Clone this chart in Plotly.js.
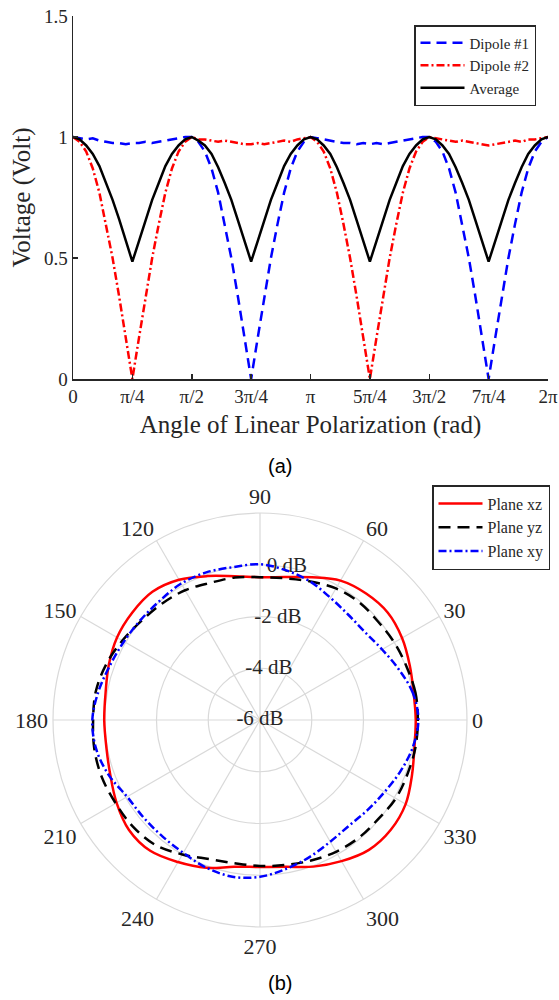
<!DOCTYPE html>
<html>
<head>
<meta charset="utf-8">
<script src="https://cdn.plot.ly/plotly-3.0.1.min.js"></script>
<style>
  html, body { margin: 0; padding: 0; background: #fff; }
  #chart { width: 559px; height: 1000px; }
</style>
</head>
<body>
<div id="chart"></div>
<script>
// ---------- (a) received voltage vs. polarization angle ----------
const angleDeg = [0,5,10,15,20,25,30,35,40,45,50,55,60,65,70,75,80,85,90,
  95,100,105,110,115,120,125,130,135,140,145,150,155,160,165,170,175,180,
  185,190,195,200,205,210,215,220,225,230,235,240,245,250,255,260,265,270,
  275,280,285,290,295,300,305,310,315,320,325,330,335,340,345,350,355,360];

const dipole1 = [1.00,0.995,0.99,0.995,0.985,0.98,0.975,0.975,0.97,0.975,0.975,0.98,0.975,0.98,0.985,0.99,0.995,1.00,1.00,
  0.98,0.94,0.87,0.77,0.64,0.50,0.34,0.17,0.00,0.17,0.34,0.50,0.64,0.77,0.87,0.94,0.98,1.00,
  0.995,0.99,0.985,0.98,0.975,0.975,0.97,0.975,0.97,0.975,0.97,0.975,0.98,0.985,0.99,0.995,1.00,1.00,
  0.98,0.94,0.87,0.77,0.64,0.50,0.34,0.17,0.00,0.17,0.34,0.50,0.64,0.77,0.87,0.94,0.98,1.00];

const dipole2 = [1.00,0.98,0.94,0.87,0.77,0.64,0.50,0.34,0.17,0.00,0.17,0.34,0.50,0.64,0.77,0.87,0.94,0.98,1.00,
  0.99,0.99,0.985,0.98,0.985,0.98,0.975,0.97,0.97,0.975,0.97,0.975,0.98,0.985,0.98,0.99,0.995,1.00,
  0.98,0.94,0.87,0.77,0.64,0.50,0.34,0.17,0.00,0.17,0.34,0.50,0.64,0.77,0.87,0.94,0.98,1.00,
  0.995,0.99,0.985,0.98,0.985,0.98,0.975,0.97,0.965,0.97,0.975,0.98,0.985,0.98,0.99,0.99,0.995,1.00];

const average = [1.00,0.99,0.965,0.93,0.88,0.81,0.74,0.66,0.57,0.485,0.57,0.66,0.74,0.81,0.88,0.93,0.965,0.99,1.00,
  0.985,0.965,0.93,0.875,0.81,0.74,0.655,0.57,0.485,0.57,0.655,0.74,0.81,0.88,0.93,0.965,0.99,1.00,
  0.99,0.965,0.93,0.875,0.81,0.74,0.655,0.57,0.485,0.57,0.655,0.74,0.81,0.88,0.93,0.965,0.99,1.00,
  0.99,0.965,0.93,0.875,0.81,0.74,0.655,0.57,0.485,0.57,0.66,0.74,0.81,0.875,0.93,0.965,0.99,1.00];

const xTickQuarters = [0,1,2,3,4,5,6,7,8];
const xTickLabels = ['0','π/4','π/2','3π/4','π','5π/4','3π/2','7π/4','2π'];
const yTickVals = [0,0.5,1,1.5];
const yTickLabels = ['0','0.5','1','1.5'];

// ---------- (b) normalized radiation patterns (dB) ----------
const thetaDeg = [0,10,20,30,40,50,60,70,80,90,100,110,120,130,140,150,160,170,180,
  190,200,210,220,230,240,250,260,270,280,290,300,310,320,330,340,350,360];

const planeXZ = [0.02,0.03,0.16,0.34,0.45,0.38,0.22,-0.13,-0.39,-0.48,-0.36,-0.08,0.26,0.47,0.45,0.38,0.22,0.06,0.02,
  0.03,0.16,0.40,0.61,0.60,0.34,0.08,-0.24,-0.32,-0.24,0.03,0.30,0.55,0.60,0.50,0.25,0.06,0.02];

const planeYZ = [0.10,0.10,0.03,-0.01,-0.06,-0.05,-0.13,-0.30,-0.44,-0.48,-0.41,-0.36,-0.21,-0.12,-0.03,0.14,0.32,0.44,0.45,
  0.50,0.50,0.44,0.41,0.30,0.00,-0.28,-0.38,-0.36,-0.31,-0.22,-0.12,-0.06,-0.04,0.06,0.07,0.10,0.10];

const planeXY = [0.12,0.00,-0.29,-0.55,-0.71,-0.69,-0.55,-0.31,-0.13,0.02,0.00,0.07,0.09,0.02,0.02,0.07,0.17,0.34,0.48,
  0.43,0.22,-0.07,-0.13,-0.13,-0.07,0.07,0.15,0.06,-0.16,-0.37,-0.57,-0.66,-0.58,-0.44,-0.22,0.00,0.12];

const rTickVals = [-6,-4,-2,0];
const rTickLabels = ['-6 dB','-4 dB','-2 dB','0 dB'];
const angTickVals = [0,30,60,90,120,150,180,210,240,270,300,330];
const angTickLabels = ['0','30','60','90','120','150','180','210','240','270','300','330'];

// ---------- drawing ----------
const SERIF = 'Liberation Serif, Times New Roman, serif';
const INK = '#262626';
const W = 559, H = 1000;
const xRad = angleDeg.map(d => d * Math.PI / 180);

const traces = [
  { type: 'scatter', mode: 'lines', x: xRad, y: dipole1, name: 'Dipole #1',
    line: { color: '#0000ff', width: 2.5, dash: '10px,6px' }, legend: 'legend', hoverinfo: 'skip' },
  { type: 'scatter', mode: 'lines', x: xRad, y: dipole2, name: 'Dipole #2',
    line: { color: '#ff0000', width: 2.5, dash: '8px,3px,2px,3px' }, legend: 'legend', hoverinfo: 'skip' },
  { type: 'scatter', mode: 'lines', x: xRad, y: average, name: 'Average',
    line: { color: '#000000', width: 2.5 }, legend: 'legend', hoverinfo: 'skip' },

  // radial tick labels sit along the 80° spoke, under the curves
  { type: 'scatterpolar', mode: 'text', r: rTickVals, theta: rTickVals.map(() => 80),
    text: rTickLabels, textposition: 'middle center', cliponaxis: false,
    textfont: { family: SERIF, size: 21, color: INK }, showlegend: false, hoverinfo: 'skip' },
  { type: 'scatterpolar', mode: 'lines', r: planeXZ, theta: thetaDeg, name: 'Plane xz',
    line: { color: '#ff0000', width: 2.5, shape: 'spline', smoothing: 1 }, legend: 'legend2', hoverinfo: 'skip' },
  { type: 'scatterpolar', mode: 'lines', r: planeYZ, theta: thetaDeg, name: 'Plane yz',
    line: { color: '#000000', width: 2.5, dash: '12px,7px', shape: 'spline', smoothing: 1 }, legend: 'legend2', hoverinfo: 'skip' },
  { type: 'scatterpolar', mode: 'lines', r: planeXY, theta: thetaDeg, name: 'Plane xy',
    line: { color: '#0000ff', width: 2.5, dash: '8px,3px,2px,3px', shape: 'spline', smoothing: 1 }, legend: 'legend2', hoverinfo: 'skip' }
];

const legendBase = {
  xanchor: 'left', yanchor: 'top', bgcolor: '#ffffff',
  bordercolor: INK, borderwidth: 1.5, tracegroupgap: 0, itemwidth: 44
};

const layout = {
  width: W, height: H,
  margin: { l: 0, r: 0, t: 0, b: 0 },
  paper_bgcolor: '#ffffff', plot_bgcolor: '#ffffff',
  showlegend: true,
  xaxis: {
    domain: [73 / W, 548 / W], range: [0, 2 * Math.PI], anchor: 'y',
    tickmode: 'array', tickvals: xTickQuarters.map(k => k * Math.PI / 4), ticktext: xTickLabels,
    ticks: 'inside', ticklen: 5, tickwidth: 1.5, tickcolor: INK,
    showline: true, linecolor: INK, linewidth: 1.5, showgrid: false, zeroline: false,
    tickfont: { family: SERIF, size: 19, color: INK }, automargin: false,
    title: { text: 'Angle of Linear Polarization (rad)', font: { family: SERIF, size: 25, color: INK }, standoff: 9 }
  },
  yaxis: {
    domain: [1 - 379 / H, 1 - 16 / H], range: [0, 1.5], anchor: 'x',
    tickmode: 'array', tickvals: yTickVals, ticktext: yTickLabels,
    ticks: 'inside', ticklen: 5, tickwidth: 1.5, tickcolor: INK,
    showline: true, linecolor: INK, linewidth: 1.5, showgrid: false, zeroline: false,
    tickfont: { family: SERIF, size: 19, color: INK }, automargin: false,
    title: { text: 'Voltage (Volt)', font: { family: SERIF, size: 25, color: INK }, standoff: 6 }
  },
  polar: {
    domain: { x: [53 / W, 467 / W], y: [1 - 927 / H, 1 - 513 / H] },
    bgcolor: '#ffffff',
    radialaxis: {
      range: [-6, 2], tickmode: 'array', tickvals: [-4, -2, 0, 2],
      showticklabels: false, ticks: '', showline: false,
      gridcolor: '#d9d9d9', gridwidth: 1.2
    },
    angularaxis: {
      direction: 'counterclockwise', rotation: 0,
      tickmode: 'array', tickvals: angTickVals, ticktext: angTickLabels,
      ticks: '', showline: true, linecolor: '#d9d9d9', linewidth: 1.2,
      gridcolor: '#d9d9d9', gridwidth: 1.2,
      tickfont: { family: SERIF, size: 22, color: INK }
    }
  },
  legend: Object.assign({}, legendBase, {
    x: 414 / W, y: 1 - 25 / H, font: { family: SERIF, size: 15, color: INK }
  }),
  legend2: Object.assign({}, legendBase, {
    x: 432 / W, y: 1 - 485 / H, font: { family: SERIF, size: 16, color: INK }
  }),
  annotations: [
    { text: '(a)', xref: 'paper', yref: 'paper', x: 280 / W, y: 1 - 466 / H,
      xanchor: 'center', yanchor: 'middle', showarrow: false,
      font: { family: 'Liberation Sans, Arial, sans-serif', size: 20, color: '#000' } },
    { text: '(b)', xref: 'paper', yref: 'paper', x: 280 / W, y: 1 - 983 / H,
      xanchor: 'center', yanchor: 'middle', showarrow: false,
      font: { family: 'Liberation Sans, Arial, sans-serif', size: 20, color: '#000' } }
  ]
};

Plotly.newPlot('chart', traces, layout, { staticPlot: true, displayModeBar: false });
</script>
</body>
</html>
